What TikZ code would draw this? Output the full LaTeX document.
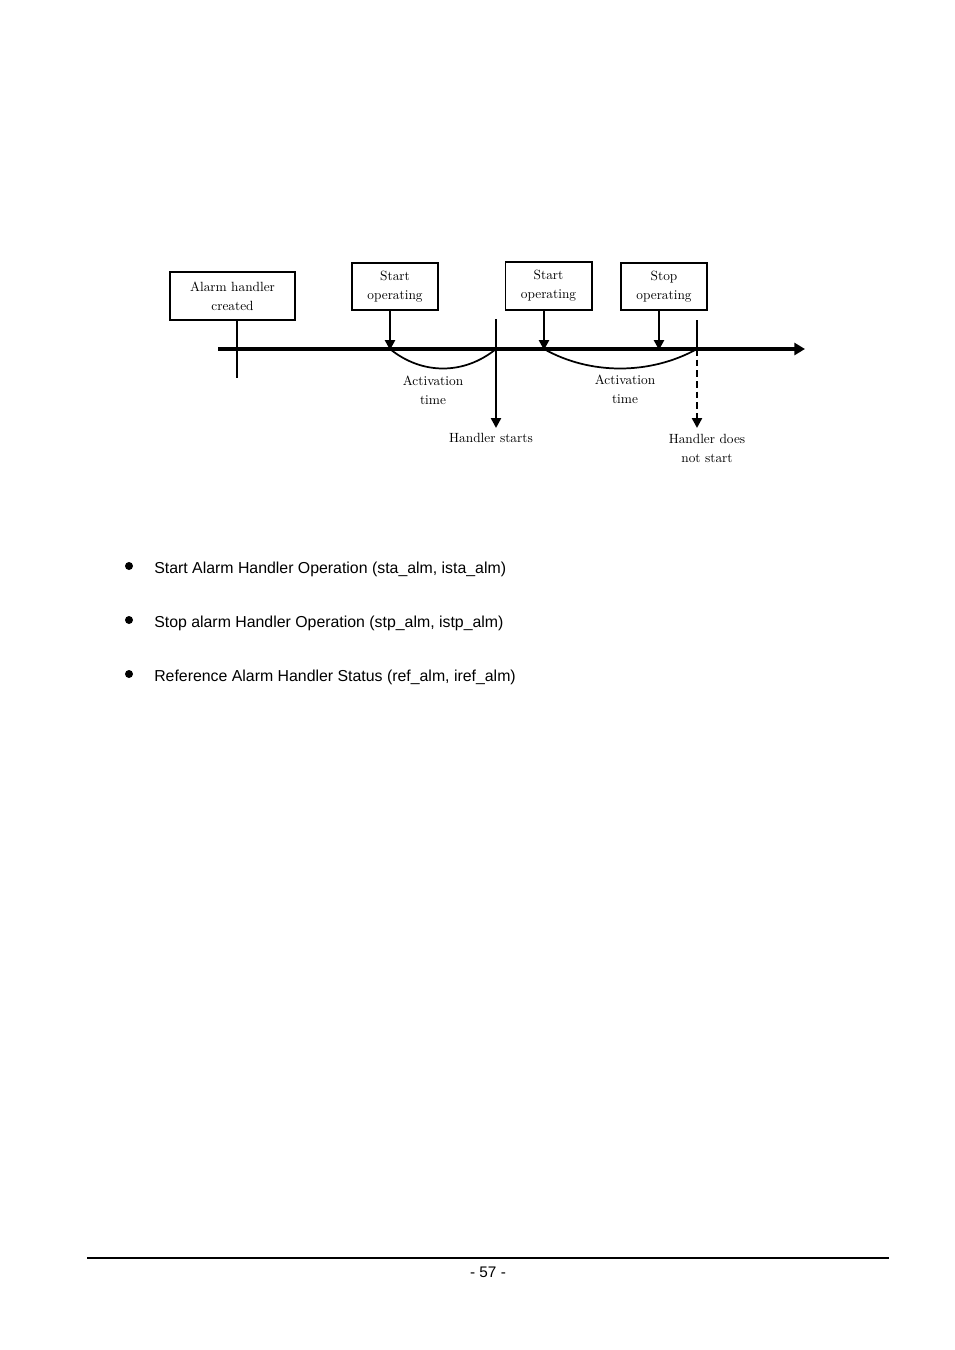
\documentclass[tikz,border=0pt]{standalone}
\usepackage{fontspec}
\newfontfamily\arialf{Liberation Sans}
\usetikzlibrary{arrows.meta}
\begin{document}
\begin{tikzpicture}[x=0.75pt,y=-0.75pt,
  box/.style={draw,line width=0.8pt,align=center,inner sep=0pt,
    font=\fontsize{10}{14.25}\selectfont},
  lbl/.style={align=center,inner sep=0pt,font=\fontsize{10}{14.25}\selectfont},
  push/.style={line width=2.2pt,-{Triangle[length=7.5pt,width=7.5pt]}},
  bul/.style={anchor=west,inner sep=0pt,font=\arialf\fontsize{11.9}{14}\selectfont},
  dot/.style={circle,fill,inner sep=0pt,minimum size=6pt}]
\useasboundingbox (0,0) rectangle (954,1350);
% boxes
\node[box,minimum width=93.75pt,minimum height=36pt] (created) at (232.5,296) {Alarm handler\\created};
\node[box,minimum width=64.5pt,minimum height=35.25pt] (s1) at (395,286.5) {Start\\operating};
\node[box,minimum width=65pt,minimum height=36pt] (s2) at (548.5,286) {Start\\operating};
\node[box,minimum width=64.5pt,minimum height=35.25pt] (p1) at (664,286.5) {Stop\\operating};
\draw[line width=1.4pt] (s2.north east) -- (s2.south east);
% timeline
\coordinate (t0) at (218,349);
\coordinate (t1) at (805,349);
\draw[line width=3pt,-{Triangle[length=8pt,width=9pt]}] (t0) -- (t1);
% creation tick
\coordinate (ctick) at (237,378);
\draw[line width=0.8pt] (created.south -| ctick) -- (ctick);
% push arrows
\coordinate (a1t) at (390,310.5);
\coordinate (a1b) at (390,350);
\coordinate (a2t) at (544,310.5);
\coordinate (a2b) at (544,350);
\coordinate (a3t) at (659,310.5);
\coordinate (a3b) at (659,350);
\draw[push] (a1t) -- (a1b);
\draw[push] (a2t) -- (a2b);
\draw[push] (a3t) -- (a3b);
% handler start line
\coordinate (h1t) at (496,319);
\coordinate (h1m) at (496,349);
\coordinate (h1b) at (496,428);
\draw[line width=1.8pt,-{Triangle[length=7.5pt,width=7.5pt]}] (h1t) -- (h1b);
% activation curves
\draw[line width=1.3pt] (a1b |- t0) .. controls (422,375) and (464,375) .. (h1m);
\coordinate (h2t) at (697,320);
\coordinate (h2m) at (697,349);
\coordinate (h2b) at (697,428);
\draw[line width=1.3pt] (a2b |- t0) .. controls (590,375) and (650,375) .. (h2m);
\draw[line width=0.8pt] (h2t) -- (h2m);
\draw[line width=1.8pt,dash pattern=on 5pt off 3pt,-{Triangle[length=7.5pt,width=7.5pt]}] (h2m) -- (h2b);
% labels
\node[lbl] (act1) at (433,390) {Activation\\time};
\node[lbl] (act2) at (625,389.5) {Activation\\time};
\node[lbl] (hs) at (491,437.5) {Handler starts};
\node[lbl] (hns) at (707,448) {Handler does\\not start};
% bullets
\node[dot] (d1) at (129,566) {};
\node[dot] (d2) at (129,620) {};
\node[dot] (d3) at (129,674) {};
\node[bul] (b1) at (154,569) {Start Alarm Handler Operation (sta\_alm, ista\_alm)};
\node[bul] (b2) at (154,623) {Stop alarm Handler Operation (stp\_alm, istp\_alm)};
\node[bul] (b3) at (154,677) {Reference Alarm Handler Status (ref\_alm, iref\_alm)};
% footer
\coordinate (f0) at (87,1258);
\coordinate (f1) at (889,1258);
\draw[line width=1.5pt] (f0) -- (f1);
\node[inner sep=0pt,font=\arialf\fontsize{11.5}{13}\selectfont] (pg) at (488,1272) {- 57 -};
\end{tikzpicture}
\end{document}
